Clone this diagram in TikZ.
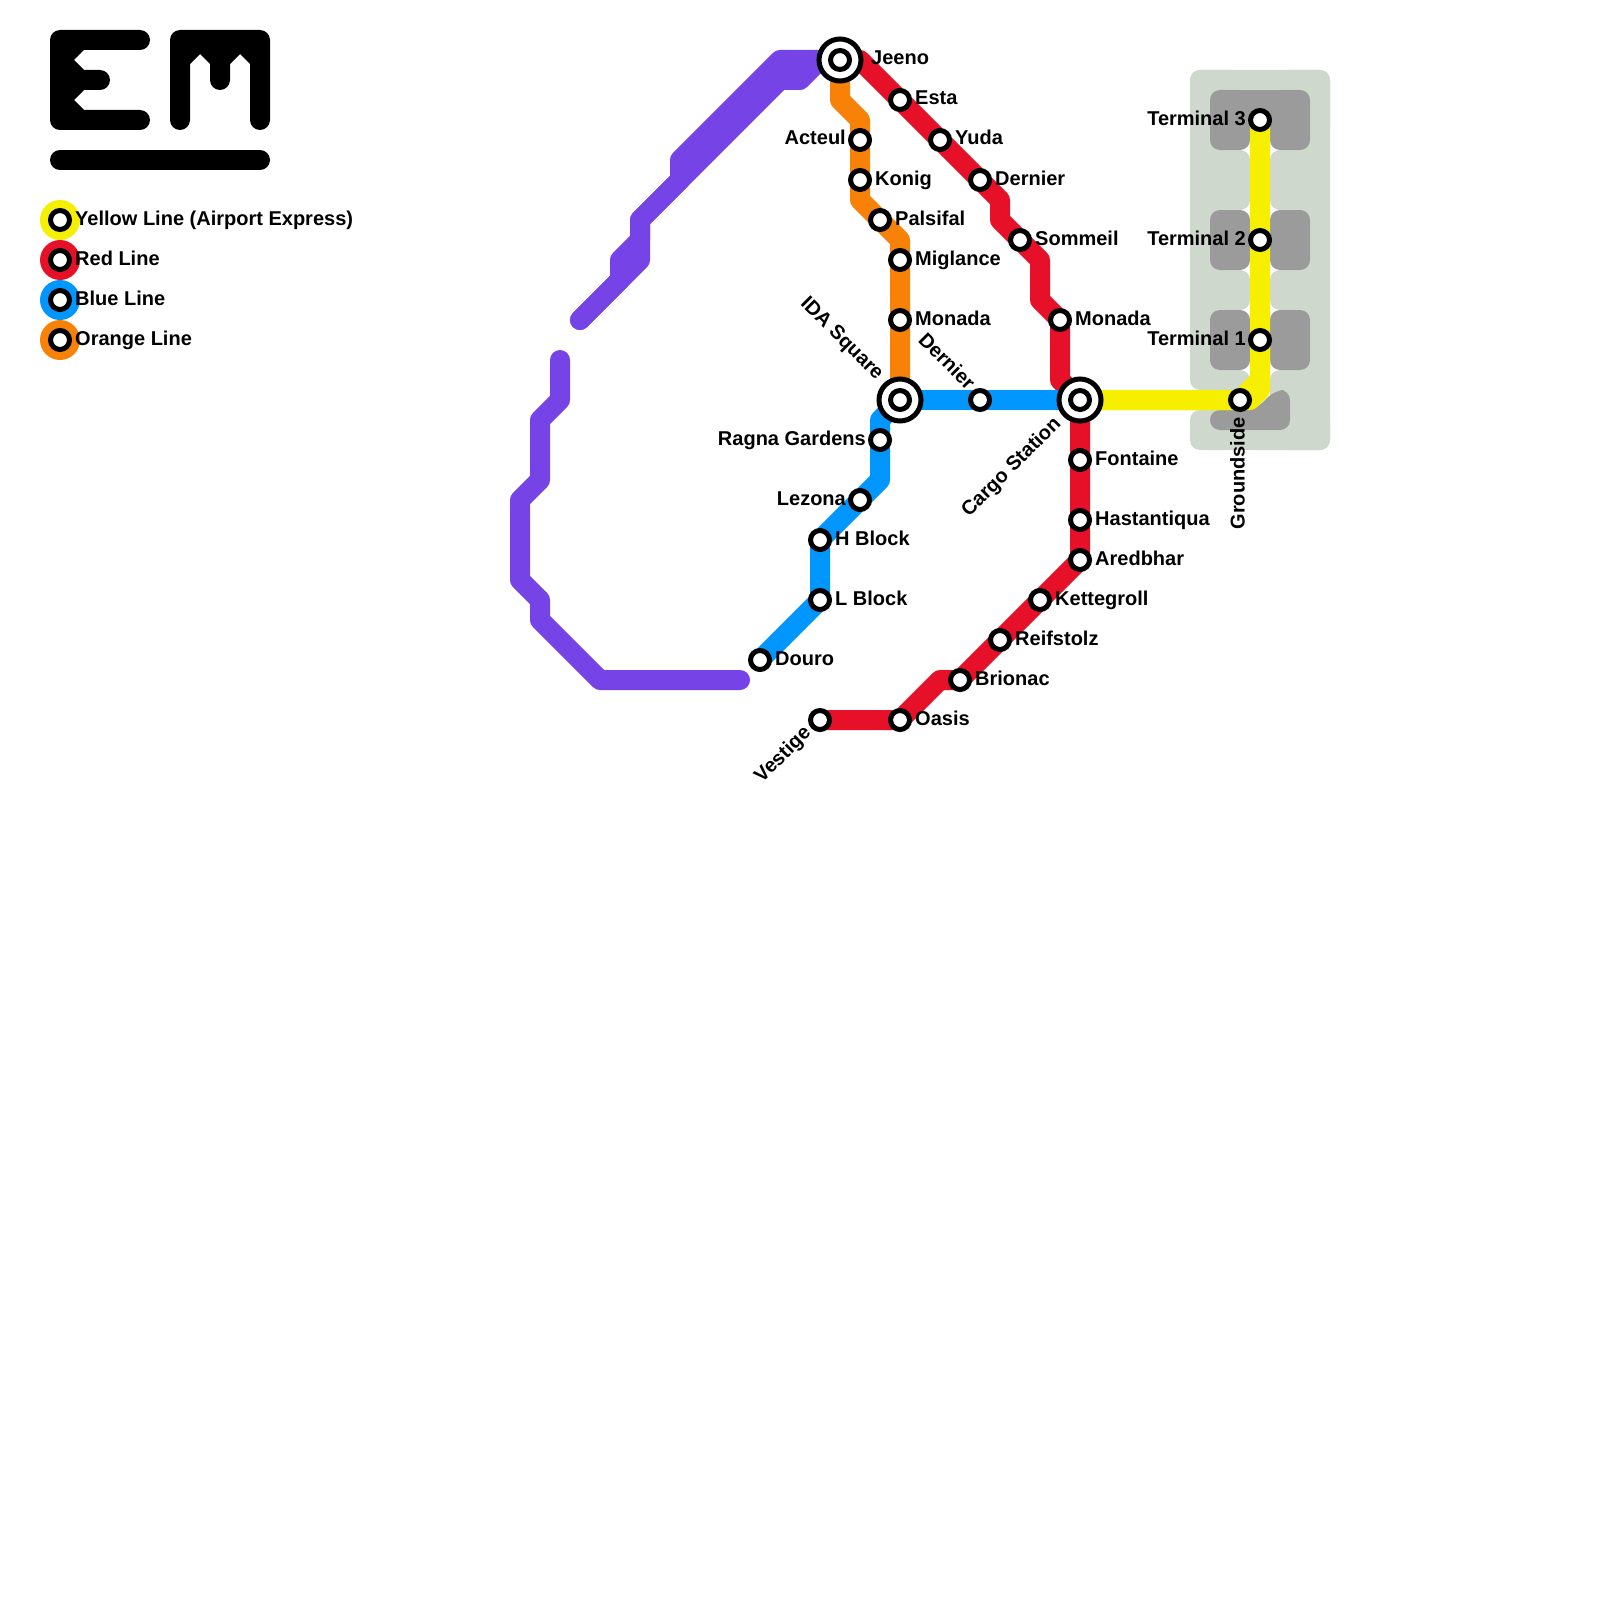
\documentclass[tikz,border=0pt]{standalone}
\usepackage{fontspec}
\setmainfont{Liberation Sans}
\usetikzlibrary{calc}
\definecolor{cyellow}{HTML}{F6F000}
\definecolor{cred}{HTML}{E61029}
\definecolor{cblue}{HTML}{0096FF}
\definecolor{corange}{HTML}{F88207}
\definecolor{cpurple}{HTML}{7644E6}
\definecolor{clight}{HTML}{CFD8CD}
\definecolor{cgrey}{HTML}{9B9B9B}
\tikzset{
  metro/.style={line width=20pt,line cap=round,line join=round},
  station/.style={circle,draw=black,fill=white,line width=5pt,minimum size=19pt,inner sep=0pt},
  hub/.style={circle,draw=black,fill=white,line width=5pt,minimum size=42pt,inner sep=0pt},
  swatch/.style={circle,minimum size=40pt,inner sep=0pt},
  lbl/.style={inner sep=0pt,font=\fontsize{20}{24}\selectfont\bfseries},
  lr/.style={lbl,anchor=base west},
  ll/.style={lbl,anchor=base east},
  lrot/.style={lbl,anchor=mid east},
  lightfill/.style={fill=clight,rounded corners=10pt},
  greyfill/.style={fill=cgrey,rounded corners=10pt},
  logo/.style={fill=black}
}
\begin{document}
\begin{tikzpicture}[x=1pt,y=-1pt]
\useasboundingbox (0,0) rectangle (1600,1600);
\fill[white] (0,0) rectangle (1600,1600);
% station coordinates
\foreach \n/\x/\y in {jeeno/840/60,esta/900/100,yuda/940/140,dernierR/980/180,sommeil/1020/240,monadaR/1060/320,cargo/1080/400,fontaine/1080/460,hast/1080/520,aredbhar/1080/560,kette/1040/600,reif/1000/640,brionac/960/680,oasis/900/720,vestige/820/720,acteul/860/140,konig/860/180,palsifal/880/220,miglance/900/260,monadaO/900/320,ida/900/400,dernierB/980/400,ragna/880/440,lezona/860/500,hblock/820/540,lblock/820/600,douro/760/660,ground/1240/400,tone/1260/340,ttwo/1260/240,tthree/1260/120,pA/740/680,pB/560/360,pC/580/320}
  {\coordinate (c\n) at (\x,\y);}
% airport ground
\path[lightfill] (1190,70) rectangle (1330,140);
\path[lightfill] (1190,70) rectangle (1240,390);
\path[lightfill] (1280,70) rectangle (1330,450);
\path[lightfill] (1190,410) rectangle (1330,450);
\foreach \a/\b in {150/210,270/310,370/392}{
  \path[lightfill] (1215,\a) rectangle (1250,\b);
  \path[lightfill] (1270,\a) rectangle (1305,\b);
}
\path[lightfill] (1270,372) rectangle (1305,415);
% terminal buildings
\path[greyfill] (1210,90) rectangle (1250,150);
\path[greyfill] (1270,90) rectangle (1310,150);
\fill[cgrey] (1235,90) rectangle (1285,130);
\path[greyfill] (1210,210) rectangle (1250,270);
\path[greyfill] (1270,210) rectangle (1310,270);
\path[greyfill] (1210,310) rectangle (1250,370);
\path[greyfill] (1270,310) rectangle (1310,370);
\path[greyfill] (1210,410) -- (1255,410) -- (1275,390) -- (1290,390) -- (1290,430) -- (1210,430) -- cycle;
% logo
\fill[logo] (60,30) -- (140,30) arc[start angle=-90,end angle=90,radius=10] -- (84,50) -- (74,60) -- (84,70) -- (100,70) arc[start angle=-90,end angle=90,radius=10] -- (84,90) -- (74,100) -- (84,110) -- (140,110) arc[start angle=-90,end angle=90,radius=10] -- (60,130) arc[start angle=90,end angle=180,radius=10] -- (50,40) arc[start angle=180,end angle=270,radius=10] -- cycle;
\fill[logo] (180,30) -- (260,30) arc[start angle=-90,end angle=0,radius=10] -- (270,120) arc[start angle=0,end angle=180,radius=10] -- (250,64) -- (240,54) -- (230,64) -- (230,80) arc[start angle=0,end angle=180,radius=10] -- (210,64) -- (200,54) -- (190,64) -- (190,120) arc[start angle=0,end angle=180,radius=10] -- (170,40) arc[start angle=180,end angle=270,radius=10] -- cycle;
\draw[metro,black] (60,160) -- (260,160);
% lines
\draw[metro,cpurple] (cjeeno) -- (780,60) -- (680,160) -- (680,180) -- (640,220) -- (640,260) -- (cpC);
\draw[metro,cpurple] (cjeeno) -- (820,60) -- (800,80) -- (780,80) -- (640,220) -- (640,240) -- (620,260) -- (620,280) -- (cpC);
\draw[metro,cpurple] (cpB) -- (560,400) -- (540,420) -- (540,480) -- (520,500) -- (520,580) -- (540,600) -- (540,620) -- (600,680) -- (cpA);
\draw[metro,cred] (cjeeno) -- (860,60) -- (cesta) -- (cyuda) -- (cdernierR) -- (1000,200) -- (1000,220) -- (csommeil) -- (1040,260) -- (1040,300) -- (cmonadaR) -- (1060,380) -- (ccargo) -- (cfontaine) -- (chast) -- (caredbhar) -- (ckette) -- (creif) -- (cbrionac) -- (940,680) -- (coasis) -- (cvestige);
\draw[metro,corange] (cjeeno) -- (840,100) -- (860,120) -- (cacteul) -- (ckonig) -- (860,200) -- (cpalsifal) -- (900,240) -- (cmiglance) -- (cmonadaO) -- (cida);
\draw[metro,cblue] (cida) -- (cdernierB) -- (ccargo);
\draw[metro,cblue] (cida) -- (880,420) -- (cragna) -- (880,480) -- (clezona) -- (chblock) -- (clblock) -- (cdouro);
\draw[metro,cyellow] (ccargo) -- (cground) -- (1260,380) -- (ctone) -- (cttwo) -- (ctthree);
\draw[metro,cyellow] (ccargo) -- (1250,400) -- (1260,390) -- (ctone);
% stations
\node[hub] (hjeeno) at (cjeeno) {};
\node[hub] (hida) at (cida) {};
\node[hub] (hcargo) at (ccargo) {};
\foreach \n in {jeeno,esta,yuda,dernierR,sommeil,monadaR,cargo,fontaine,hast,aredbhar,kette,reif,brionac,oasis,vestige,acteul,konig,palsifal,miglance,monadaO,ida,dernierB,ragna,lezona,hblock,lblock,douro,ground,tone,ttwo,tthree}
  {\node[station] (\n) at (c\n) {};}
% labels
\node[lr] (ljeeno) at (871,65) {Jeeno};
\node[lr] (lesta) at (915,105) {Esta};
\node[lr] (lyuda) at (955,145) {Yuda};
\node[lr] (ldernierR) at (995,185) {Dernier};
\node[lr] (lsommeil) at (1035,245) {Sommeil};
\node[lr] (lmonadaR) at (1075,325) {Monada};
\node[lr] (lfontaine) at (1095,465) {Fontaine};
\node[lr] (lhast) at (1095,525) {Hastantiqua};
\node[lr] (lared) at (1095,565) {Aredbhar};
\node[lr] (lkette) at (1055,605) {Kettegroll};
\node[lr] (lreif) at (1015,645) {Reifstolz};
\node[lr] (lbrionac) at (975,685) {Brionac};
\node[lr] (loasis) at (915,725) {Oasis};
\node[ll] (lacteul) at (846,145) {Acteul};
\node[lr] (lkonig) at (875,185) {Konig};
\node[lr] (lpalsifal) at (895,225) {Palsifal};
\node[lr] (lmiglance) at (915,265) {Miglance};
\node[lr] (lmonadaO) at (915,325) {Monada};
\node[ll] (lragna) at (866,445) {Ragna Gardens};
\node[ll] (llezona) at (846,505) {Lezona};
\node[lr] (lh) at (835,545) {H Block};
\node[lr] (ll) at (835,605) {L Block};
\node[lr] (ldouro) at (775,665) {Douro};
\node[ll] (lt3) at (1246,125) {Terminal 3};
\node[ll] (lt2) at (1246,245) {Terminal 2};
\node[ll] (lt1) at (1246,345) {Terminal 1};
\node[lrot,rotate=-45] (lida) at (878,379) {IDA Square};
\node[lrot,rotate=-45] (ldernierB) at (969,389) {Dernier};
\node[lrot,rotate=45] (lcargo) at (1060,423) {Cargo Station};
\node[lrot,rotate=45] (lvestige) at (810,732) {Vestige};
\node[lrot,rotate=90] (lground) at (1242,417) {Groundside};
% legend
\foreach \n/\y/\c/\t in {ly/220/cyellow/Yellow Line (Airport Express),lr/260/cred/Red Line,lb/300/cblue/Blue Line,lo/340/corange/Orange Line}{
  \node[swatch,fill=\c] (s\n) at (60,\y) {};
  \node[station] (t\n) at (60,\y) {};
  \node[lr] (x\n) at (75,\y+5) {\t};
}
\end{tikzpicture}
\end{document}
